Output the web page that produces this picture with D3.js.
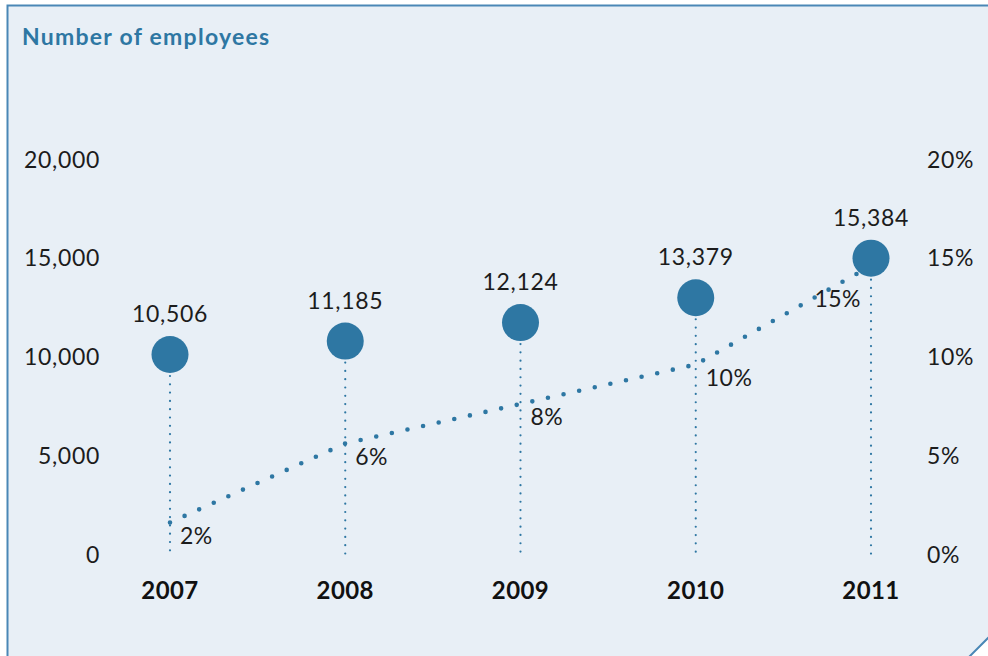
<!DOCTYPE html>
<html>
<head>
<meta charset="utf-8">
<script src="https://cdn.jsdelivr.net/npm/d3@7"></script>
<style>
  html, body { margin: 0; padding: 0; background: #ffffff; }
  svg { display: block; }
  text { font-family: Lato, "Open Sans", sans-serif; }
</style>
</head>
<body>
<svg id="chart" width="988" height="656"></svg>
<script>
// Headcount and growth by year
const years = ["2007", "2008", "2009", "2010", "2011"];
const employees = [10506, 11185, 12124, 13379, 15384];
const growthPct = [2, 6, 8, 10, 15];
const leftTicks = [0, 5000, 10000, 15000, 20000];
const rightTicks = [0, 5, 10, 15, 20];

const blue = "#2e77a3";
const ink = "#1c1c1c";

const svg = d3.select("#chart");

// Panel with clipped bottom-right corner
svg.append("path")
  .attr("d", "M7.5,720 V5.5 H1010 V616 L950,676 Z")
  .attr("fill", "#e8eff6")
  .attr("stroke", "#4a87b6")
  .attr("stroke-width", 2);

svg.append("text")
  .attr("x", 22).attr("y", 45)
  .attr("fill", blue)
  .attr("font-size", 23)
  .attr("font-weight", 700)
  .attr("letter-spacing", 1.25)
  .text("Number of employees");

const x = d3.scalePoint().domain(years).range([170, 871]);
// Values sit on the baseline of the tick labels
const yL = d3.scaleLinear().domain([0, 20000]).range([562, 167]);
const yR = d3.scaleLinear().domain([0, 20]).range([562, 167]);

function styleAxis(g) {
  g.select(".domain").remove();
  g.selectAll("text")
    .attr("dy", 0)
    .attr("font-size", 23)
    .attr("letter-spacing", 0.7)
    .attr("fill", ink)
    .attr("font-family", "Lato, sans-serif");
}

// Left axis (employees)
svg.append("g")
  .attr("transform", "translate(100,0)")
  .call(d3.axisLeft(yL).tickValues(leftTicks).tickSize(0).tickPadding(0)
    .tickFormat(d3.format(",")))
  .call(styleAxis);

// Right axis (growth %)
svg.append("g")
  .attr("transform", "translate(927,0)")
  .call(d3.axisRight(yR).tickValues(rightTicks).tickSize(0).tickPadding(0)
    .tickFormat(d => d + "%"))
  .call(styleAxis);

const R = 18.5;

// Vertical dotted drop lines
svg.append("g").selectAll("line")
  .data(years)
  .join("line")
  .attr("x1", d => x(d)).attr("x2", d => x(d))
  .attr("y1", (d, i) => yL(employees[i]) + R + 3)
  .attr("y2", 556)
  .attr("stroke", blue)
  .attr("stroke-width", 2.2)
  .attr("stroke-linecap", "round")
  .attr("stroke-dasharray", "0 8.3");

// Growth line, dotted
const line = d3.line()
  .x((d, i) => x(years[i]))
  .y(d => yR(d));
svg.append("path")
  .datum(growthPct)
  .attr("d", line)
  .attr("fill", "none")
  .attr("stroke", blue)
  .attr("stroke-width", 4.6)
  .attr("stroke-linecap", "round")
  .attr("stroke-dasharray", "0 16");

// Growth labels
const lastIdx = growthPct.length - 1;
svg.append("g").selectAll("text")
  .data(growthPct)
  .join("text")
  .attr("x", (d, i) => x(years[i]) + (i === lastIdx ? -10 : 10))
  .attr("y", (d, i) => yR(d) + (i === lastIdx ? 41 : 21))
  .attr("text-anchor", (d, i) => i === lastIdx ? "end" : "start")
  .attr("font-size", 23)
  .attr("letter-spacing", 0.5)
  .attr("fill", ink)
  .text(d => d + "%");

// Employee markers
svg.append("g").selectAll("circle")
  .data(employees)
  .join("circle")
  .attr("cx", (d, i) => x(years[i]))
  .attr("cy", d => yL(d))
  .attr("r", R)
  .attr("fill", blue);

svg.append("g").selectAll("text")
  .data(employees)
  .join("text")
  .attr("x", (d, i) => x(years[i]))
  .attr("y", d => yL(d) - R - 14)
  .attr("text-anchor", "middle")
  .attr("font-size", 23)
  .attr("letter-spacing", 0.7)
  .attr("fill", ink)
  .text(d => d3.format(",")(d));

// Year labels
svg.append("g").selectAll("text")
  .data(years)
  .join("text")
  .attr("x", d => x(d))
  .attr("y", 599)
  .attr("text-anchor", "middle")
  .attr("font-size", 24)
  .attr("font-weight", 700)
  .attr("letter-spacing", 0.4)
  .attr("fill", "#111")
  .text(d => d);
</script>
</body>
</html>
